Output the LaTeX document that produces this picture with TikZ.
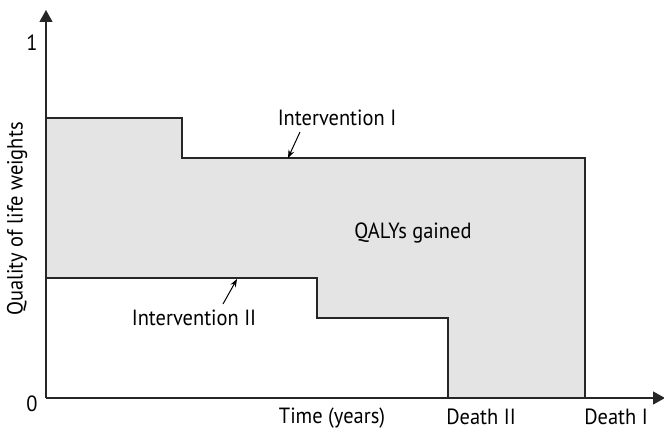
\documentclass[tikz,border=0pt]{standalone}
\usepackage{fontspec}
\setmainfont{PT Sans}[FakeStretch=0.93]
\usetikzlibrary{arrows.meta}
\definecolor{fillgray}{HTML}{E3E4E3}
\begin{document}
\begin{tikzpicture}[x=1pt,y=-1pt,
  lbl/.style={font=\fontsize{22}{26}\selectfont,inner sep=0pt},
  curve/.style={line width=1.2pt,black!85},
  axis/.style={line width=1.2pt,black!85,-{Triangle[length=12pt,width=13pt]}},
  pointer/.style={line width=1pt,-{Stealth[length=8pt,width=6pt]}}]
\useasboundingbox (0,0) rectangle (664,430);
% shaded region
\fill[fillgray] (46,118) -- (182,118) -- (182,158) -- (585,158) -- (585,398)
  -- (448,398) -- (448,318) -- (317,318) -- (317,278) -- (46,278) -- cycle;
% axes
\coordinate (O) at (46,398);
\coordinate (ytip) at (46,10);
\coordinate (xtip) at (665,398);
\draw[axis] (O) -- (ytip);
\draw[axis] (O) -- (xtip);
% intervention I
\draw[curve] (46,118) -- (182,118) -- (182,158) -- (585,158) -- (585,398);
% intervention II
\draw[curve] (46,278) -- (317,278) -- (317,318) -- (448,318) -- (448,398);
% labels
\node[lbl] (one) at (32,43) {1};
\node[lbl] (zero) at (32,404) {0};
\node[lbl,rotate=90] (ylab) at (17,219) {Quality of life weights};
\node[lbl] (i1) at (337,118) {Intervention I};
\node[lbl] (i2) at (194,318) {Intervention II};
\node[lbl] (q) at (413,233) {QALYs gained};
\node[lbl] (time) at (332,418) {Time (years)};
\node[lbl] (d2) at (481,417) {Death II};
\node[lbl] (d1) at (616,417) {Death I};
\coordinate (p1) at (288,158);
\coordinate (p2) at (237,279);
\draw[pointer] (300,132) -- (p1);
\draw[pointer] (223,304) -- (p2);
\end{tikzpicture}
\end{document}
